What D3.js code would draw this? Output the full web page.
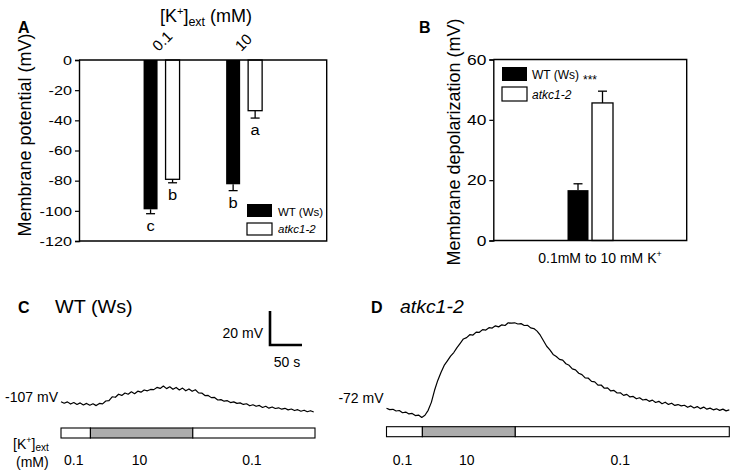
<!DOCTYPE html>
<html><head><meta charset="utf-8">
<script src="https://cdn.jsdelivr.net/npm/d3@7"></script>
<style>
body{margin:0;background:#fff}
svg{display:block}
text{font-family:"Liberation Sans",Arial,Helvetica,sans-serif;fill:#000}
</style>
</head><body>
<svg id="chart" width="733" height="471"></svg>
<script>
// ---------- Panel A data ----------
const concA = ["0.1", "10"];
const wtA = [-99.0, -82.4];
const wtErrA = [2.9, 4.2];
const mutA = [-79.1, -33.6];
const mutErrA = [2.3, 4.9];
const wtLettersA = ["c", "b"];
const mutLettersA = ["b", "a"];
const yTicksA = [0, -20, -40, -60, -80, -100, -120];

// ---------- Panel B data ----------
const catB = ["0.1mM to 10 mM K+"];
const wtB = [16.7];
const wtErrB = [2.1];
const mutB = [45.6];
const mutErrB = [3.9];
const yTicksB = [0, 20, 40, 60];
const legendLabels = ["WT (Ws)", "atkc1-2"];

// ---------- Panel C trace (WT) : time (s), potential (mV) ----------
const tC = [0,5,10,15,20,25,30,35,40,45,50,55,60,65,70,75,80,85,90,95,100,105,110,115,120,125,130,135,140,145,150,155,160,165,170,175,180,185,190,195,200,205,210,215,220,225,230,235,240,245,250,255,260,265,270,275,280,285,290,295,300,305,310,315,320,325,330,335,340,345,350,355,360,365,370,375,380,385,390,395];
const vC = [-107.0,-107.9,-107.1,-108.4,-107.5,-108.6,-107.7,-108.9,-108.0,-109.1,-108.2,-109.3,-108.0,-108.3,-106.6,-106.4,-104.1,-104.4,-102.6,-103.3,-101.9,-102.6,-101.2,-102.3,-100.8,-101.4,-100.1,-100.6,-99.8,-99.9,-98.6,-99.2,-97.8,-99.3,-98.2,-99.7,-98.6,-100.1,-99.0,-100.6,-99.5,-100.9,-100.0,-101.8,-101.9,-103.4,-103.3,-104.6,-104.5,-106.0,-105.8,-106.7,-106.4,-107.5,-107.1,-108.0,-107.7,-108.6,-108.2,-109.4,-108.8,-109.7,-109.2,-110.4,-109.7,-110.8,-110.1,-111.0,-110.6,-111.4,-110.9,-111.8,-111.3,-112.2,-111.7,-112.6,-112.0,-112.9,-112.3,-113.1];
const segStartC = [0, 46, 206];
const segEndC = [46, 206, 397];
const segConcC = ["0.1", "10", "0.1"];
const baseC = -107;

// ---------- Panel D trace (atkc1-2) ----------
const tD = [0,5,10,15,20,25,30,35,40,45,50,55,60,65,70,75,80,85,90,95,100,105,110,115,120,125,130,135,140,145,150,155,160,165,170,175,180,185,190,195,200,205,210,215,220,225,230,235,240,245,250,255,260,265,270,275,280,285,290,295,300,305,310,315,320,325,330,335,340,345,350,355,360,365,370,375,380,385,390,395,400,405,410,415,420,425,430,435,440,445,450,455,460,465,470,475,480,485,490,495,500,505,510,515,520,525,530,535];
const vD = [-72.0,-72.8,-72.6,-73.6,-73.3,-74.6,-74.2,-75.3,-75.0,-76.3,-76.0,-77.4,-76.1,-73.2,-68.5,-61.4,-55.6,-50.9,-46.8,-44.1,-41.3,-39.2,-36.3,-33.8,-31.2,-30.4,-28.7,-28.9,-27.2,-27.3,-25.7,-26.0,-24.6,-24.8,-23.5,-24.1,-22.9,-23.3,-21.7,-21.9,-21.7,-22.4,-22.2,-23.3,-23.2,-24.7,-25.1,-26.6,-29.0,-32.3,-35.5,-37.6,-40.3,-41.5,-43.2,-43.7,-45.8,-46.7,-48.8,-49.4,-51.4,-52.2,-54.1,-54.3,-56.2,-56.5,-58.4,-58.3,-60.2,-60.0,-61.8,-61.5,-63.0,-62.9,-64.4,-63.8,-65.3,-65.0,-66.4,-65.8,-67.1,-66.7,-67.9,-67.2,-68.6,-67.9,-69.3,-68.4,-69.7,-69.0,-70.3,-69.8,-70.6,-70.2,-71.4,-70.6,-71.8,-71.0,-72.2,-71.3,-72.5,-71.9,-72.9,-72.3,-73.2,-72.5,-73.5,-72.9];
const segStartD = [0, 56, 201];
const segEndD = [56, 201, 535];
const segConcD = ["0.1", "10", "0.1"];
const baseD = -72;

const scaleBarMV = 20;
const scaleBarS = 50;

// ======================================================
const svg = d3.select("#chart");
svg.append("rect").attr("width", 733).attr("height", 471).attr("fill", "#fff");
const AX = 1.4;

// horizontally widened text (the figure's lettering is slightly stretched)
function wText(parent, x, y, str, size, sx, anchor) {
  return parent.append("text")
    .attr("transform", `translate(${x},${y}) scale(${sx},1)`)
    .attr("text-anchor", anchor || "start")
    .attr("font-size", size).text(str);
}

function errBar(g, cx, y0, y1) {
  g.append("line").attr("x1", cx).attr("x2", cx).attr("y1", y0).attr("y2", y1)
    .attr("stroke", "#000").attr("stroke-width", 1.3);
  g.append("line").attr("x1", cx - 4.5).attr("x2", cx + 4.5).attr("y1", y1).attr("y2", y1)
    .attr("stroke", "#000").attr("stroke-width", 1.3);
}

// ---------------- Panel A ----------------
{
  const L = 79, R = 326.7, T = 60, B = 241;
  const y = d3.scaleLinear().domain([-120, 0]).range([B, T]);
  const x = d3.scalePoint().domain(concA).range([L, R]).padding(1);
  const g = svg.append("g");
  const bw = 14, gap = 4;

  concA.forEach((c, i) => {
    const cx = x(c);
    g.append("rect").attr("x", cx - gap - bw).attr("width", bw)
      .attr("y", y(0)).attr("height", y(wtA[i]) - y(0)).attr("fill", "#000");
    errBar(g, cx - gap - bw / 2, y(wtA[i]), y(wtA[i] - wtErrA[i]));
    wText(g, cx - gap - bw / 2, y(wtA[i] - wtErrA[i]) + 17, wtLettersA[i], 15, 1.1, "middle");
    g.append("rect").attr("x", cx + gap).attr("width", bw)
      .attr("y", y(0)).attr("height", y(mutA[i]) - y(0))
      .attr("fill", "#fff").attr("stroke", "#000").attr("stroke-width", 1.3);
    errBar(g, cx + gap + bw / 2, y(mutA[i]), y(mutA[i] - mutErrA[i]));
    wText(g, cx + gap + bw / 2, y(mutA[i] - mutErrA[i]) + 17, mutLettersA[i], 15, 1.1, "middle");
    g.append("text").attr("transform", `translate(${cx - 3},52) rotate(-45)`)
      .attr("font-size", 15).text(c);
  });

  g.append("path").attr("d", `M${L},${T}H${R}V${B}H${L}`).attr("fill", "none")
    .attr("stroke", "#000").attr("stroke-width", AX);
  const ax = g.append("g").attr("transform", `translate(${L},0)`)
    .call(d3.axisLeft(y).tickValues(yTicksA).tickSize(4).tickPadding(3).tickFormat(d => String(d)));
  ax.attr("font-size", 13.5);
  ax.selectAll(".tick text").attr("x", -7 / 1.2).attr("transform", "scale(1.2,1)");
  ax.select(".domain").attr("stroke-width", AX);
  ax.selectAll(".tick line").attr("stroke-width", 1.2);

  g.append("text").attr("transform", "translate(31,135) rotate(-90)")
    .attr("text-anchor", "middle").attr("font-size", 18).text("Membrane potential (mV)");

  const tt = g.append("text").attr("x", 206).attr("y", 22).attr("text-anchor", "middle").attr("font-size", 18);
  tt.append("tspan").text("[K");
  tt.append("tspan").attr("font-size", 11).attr("dy", -7).text("+");
  tt.append("tspan").attr("dy", 7).text("]");
  tt.append("tspan").attr("font-size", 12.5).attr("dy", 4).text("ext");
  tt.append("tspan").attr("dy", -4).text(" (mM)");

  const lg = g.append("g");
  lg.append("rect").attr("x", 247).attr("y", 204).attr("width", 25).attr("height", 13).attr("fill", "#000");
  lg.append("rect").attr("x", 247).attr("y", 223).attr("width", 25).attr("height", 12)
    .attr("fill", "#fff").attr("stroke", "#000").attr("stroke-width", 1.2);
  lg.append("text").attr("x", 278).attr("y", 216).attr("font-size", 11.5).text(legendLabels[0]);
  lg.append("text").attr("x", 278).attr("y", 233).attr("font-size", 11.5).attr("font-style", "italic").text(legendLabels[1]);

  g.append("text").attr("x", 18).attr("y", 33).attr("font-size", 16).attr("font-weight", "bold").text("A");
}

// ---------------- Panel B ----------------
{
  const L = 493.3, R = 686.7, T = 59.5, B = 240.5;
  const y = d3.scaleLinear().domain([0, 60]).range([B, T]);
  const x = d3.scalePoint().domain(catB).range([L, R]).padding(0.5);
  const g = svg.append("g");
  const bw = 21;
  catB.forEach((c, i) => {
    const cx = x(c);
    g.append("rect").attr("x", cx - 1.5 - bw).attr("width", bw)
      .attr("y", y(wtB[i])).attr("height", y(0) - y(wtB[i])).attr("fill", "#000");
    errBar(g, cx - 1.5 - bw / 2, y(wtB[i]), y(wtB[i] + wtErrB[i]));
    g.append("rect").attr("x", cx + 2).attr("width", bw)
      .attr("y", y(mutB[i])).attr("height", y(0) - y(mutB[i]))
      .attr("fill", "#fff").attr("stroke", "#000").attr("stroke-width", 1.3);
    errBar(g, cx + 2 + bw / 2, y(mutB[i]), y(mutB[i] + mutErrB[i]));
    const lab = g.append("text").attr("x", cx + 10).attr("y", 263).attr("text-anchor", "middle").attr("font-size", 14);
    lab.append("tspan").text(c.slice(0, -1));
    lab.append("tspan").attr("font-size", 9).attr("dy", -6).text("+");
  });
  g.append("path").attr("d", `M${L},${T}H${R}V${B}H${L}`).attr("fill", "none")
    .attr("stroke", "#000").attr("stroke-width", AX);
  const ax = g.append("g").attr("transform", `translate(${L},0)`)
    .call(d3.axisLeft(y).tickValues(yTicksB).tickSize(4).tickPadding(3).tickFormat(d => String(d)));
  ax.attr("font-size", 14.5);
  ax.selectAll(".tick text").attr("x", -7 / 1.2).attr("transform", "scale(1.2,1)");
  ax.select(".domain").attr("stroke-width", AX);
  ax.selectAll(".tick line").attr("stroke-width", 1.2);

  g.append("text").attr("transform", "translate(460,142) rotate(-90)")
    .attr("text-anchor", "middle").attr("font-size", 18).text("Membrane depolarization (mV)");

  const lg = g.append("g");
  lg.append("rect").attr("x", 502).attr("y", 67).attr("width", 25).attr("height", 14).attr("fill", "#000");
  lg.append("rect").attr("x", 502).attr("y", 87).attr("width", 25).attr("height", 14)
    .attr("fill", "#fff").attr("stroke", "#000").attr("stroke-width", 1.2);
  lg.append("text").attr("x", 532).attr("y", 79).attr("font-size", 12).text(legendLabels[0]);
  lg.append("text").attr("x", 532).attr("y", 99).attr("font-size", 12).attr("font-style", "italic").text(legendLabels[1]);
  lg.append("text").attr("x", 583).attr("y", 84).attr("font-size", 12).text("***");

  g.append("text").attr("x", 419).attr("y", 33).attr("font-size", 16).attr("font-weight", "bold").text("B");
}

// ---------------- Panels C & D (traces) ----------------
function tracePanel(opt) {
  const g = svg.append("g");
  const x = d3.scaleLinear().domain([0, opt.tmax]).range([opt.x0, opt.x1]);
  const y = d3.scaleLinear().domain([opt.base, opt.base + 20]).range([opt.y0, opt.y0 - 34]);
  const line = d3.line().x((d, i) => x(opt.t[i])).y(d => y(d));
  g.append("path").datum(opt.v).attr("d", line).attr("fill", "none")
    .attr("stroke", "#000").attr("stroke-width", 1.2).attr("stroke-linejoin", "round");
  wText(g, opt.x0 - 3, opt.labelY, `${opt.base} mV`, 14, 1.0, "end");
  opt.s0.forEach((s, i) => {
    g.append("rect").attr("x", x(s)).attr("width", x(opt.s1[i]) - x(s))
      .attr("y", opt.barY).attr("height", 10)
      .attr("fill", opt.conc[i] === "10" ? "#acacac" : "#fff")
      .attr("stroke", "#000").attr("stroke-width", 1.1);
    g.append("text").attr("x", (x(s) + x(opt.s1[i])) / 2 - 2).attr("y", 465)
      .attr("text-anchor", "middle").attr("font-size", 14).text(opt.conc[i]);
  });
  return { g, x, y };
}

const pc = tracePanel({ t: tC, v: vC, tmax: 397, x0: 61, x1: 315, base: baseC, y0: 401.7,
  s0: segStartC, s1: segEndC, conc: segConcC, barY: 428, labelY: 402 });
const pd = tracePanel({ t: tD, v: vD, tmax: 535, x0: 386.5, x1: 729.3, base: baseD, y0: 408.3,
  s0: segStartD, s1: segEndD, conc: segConcD, barY: 426.7, labelY: 403 });

// scale bar (panel C scales)
{
  const cx = 270, cy = 345;
  const h = pc.y(baseC) - pc.y(baseC + scaleBarMV);
  const w = pc.x(scaleBarS) - pc.x(0);
  svg.append("path").attr("d", `M${cx},${cy - h}V${cy}H${cx + w}`).attr("fill", "none")
    .attr("stroke", "#000").attr("stroke-width", 2.6);
  svg.append("text").attr("x", cx - 7).attr("y", 338).attr("text-anchor", "end").attr("font-size", 14).text(`${scaleBarMV} mV`);
  svg.append("text").attr("x", cx + w / 2 + 1).attr("y", 367).attr("text-anchor", "middle").attr("font-size", 14).text(`${scaleBarS} s`);
}

// panel titles
svg.append("text").attr("x", 18).attr("y", 313).attr("font-size", 16).attr("font-weight", "bold").text("C");
wText(svg, 55, 313, "WT (Ws)", 18, 1.1, "start");
svg.append("text").attr("x", 371).attr("y", 313).attr("font-size", 16).attr("font-weight", "bold").text("D");
wText(svg, 400, 313, "atkc1-2", 18, 1.08, "start").attr("font-style", "italic");

// [K+]ext (mM) label
{
  const t = svg.append("text").attr("x", 13).attr("y", 449).attr("font-size", 14);
  t.append("tspan").text("[K");
  t.append("tspan").attr("font-size", 9).attr("dy", -6).text("+");
  t.append("tspan").attr("dy", 6).text("]");
  t.append("tspan").attr("font-size", 10).attr("dy", 2).text("ext");
  svg.append("text").attr("x", 16).attr("y", 467).attr("font-size", 14).text("(mM)");
}
</script>
</body></html>
